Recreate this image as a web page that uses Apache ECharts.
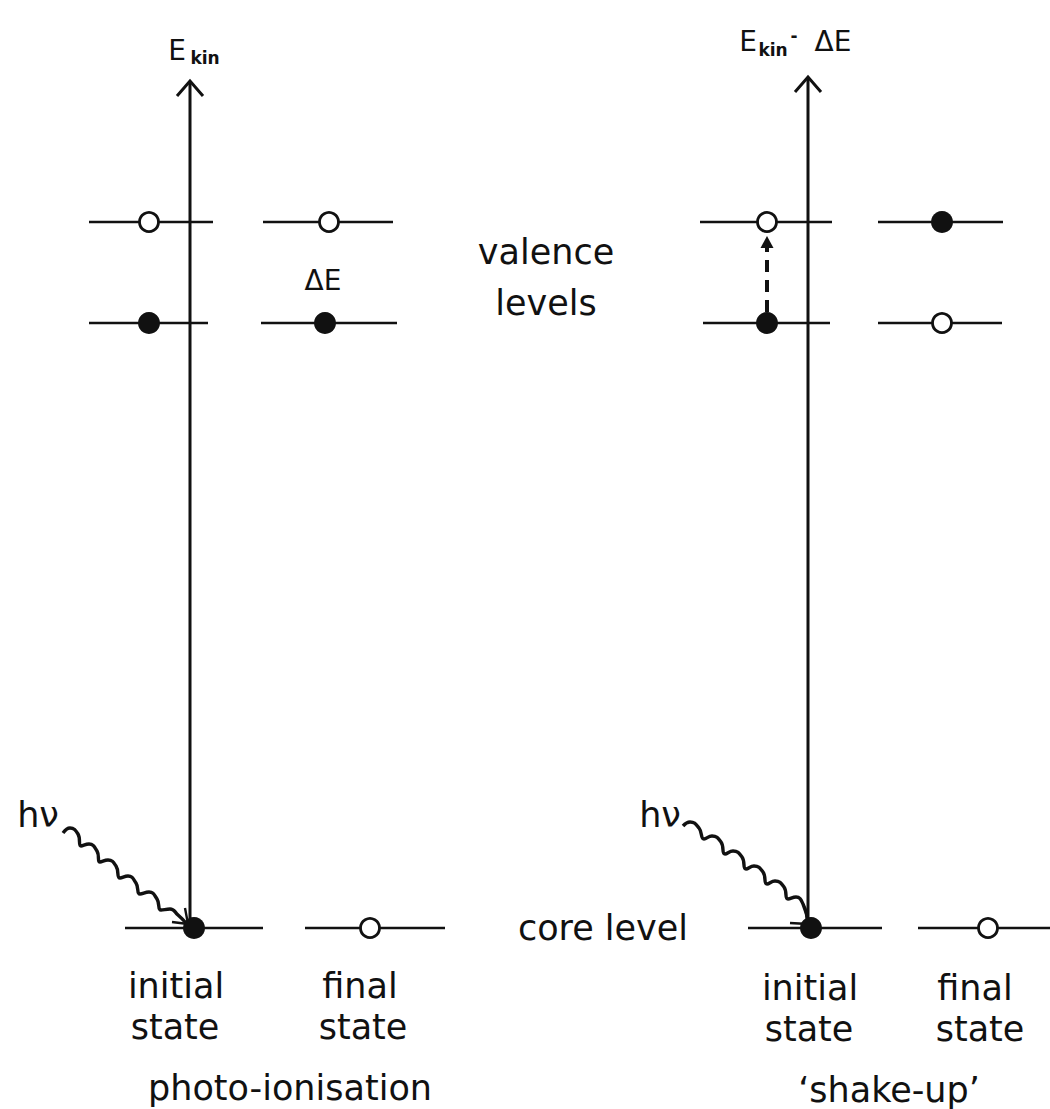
<!DOCTYPE html>
<html>
<head>
<meta charset="utf-8">
<script src="https://cdn.jsdelivr.net/npm/echarts@6/dist/echarts.min.js"></script>
<style>
  html, body { margin: 0; padding: 0; background: #fff; }
  #chart { width: 1050px; height: 1109px; }
</style>
</head>
<body>
<div id="chart"></div>
<script>
// diagram units: x across, y down the page (same scale as the figure)
const LEVEL_Y = { upper: 222, lower: 323, core: 928 };

// [x start, x end, level]
const LEVEL_SEGMENTS = [
  [89, 213, "upper"], [263, 393, "upper"],
  [89, 208, "lower"], [261, 397, "lower"],
  [125, 263, "core"], [305, 445, "core"],
  [700, 832, "upper"], [878, 1003, "upper"],
  [703, 830, "lower"], [878, 1002, "lower"],
  [748, 882, "core"], [918, 1050, "core"],
];

// electrons (filled) and holes (open): [x, level]
const FILLED = [
  [149, "lower"], [325, "lower"], [194, "core"],
  [942, "upper"], [767, "lower"], [811, "core"],
];
const EMPTY = [
  [149, "upper"], [329, "upper"], [370, "core"],
  [767, "upper"], [942, "lower"], [988, "core"],
];

// kinetic energy arrows: [x, bottom, top]
const ENERGY_AXES = [
  [190, 928, 81],
  [808, 928, 77],
];

// shake-up excitation: [x, from, to]
const EXCITATION = [767, 312, 247];

// photon wavy lines
const WAVE_LEFT = [
  [63, 833], [70, 828], [78, 834], [81, 846], [89, 844], [97, 851],
  [100, 862], [108, 860], [116, 866], [120, 878], [128, 876], [136, 883],
  [140, 894], [149, 892], [157, 899], [161, 910], [170, 909], [178, 915], [186, 923],
];
const WAVE_RIGHT = [
  [683, 826], [690, 822], [699, 828], [704, 839], [712, 836], [721, 842],
  [725, 854], [733, 851], [742, 857], [746, 869], [754, 866], [763, 872],
  [767, 884], [775, 881], [784, 887], [788, 899], [796, 897], [803, 904], [808, 923],
];
const WAVE_HEADS = [
  [[185, 908], [188, 924], [172, 922]],
  [[805, 908], [808, 924], [790, 923]],
];

// text: [x, y, text]
const TEXT_MAIN = [
  [546, 252, "valence"], [546, 303, "levels"],
  [38, 815, "hν"], [660, 815, "hν"],
  [603, 928, "core level"],
  [176, 986, "initial"], [175, 1027, "state"],
  [360, 986, "final"], [363, 1027, "state"],
  [290, 1088, "photo-ionisation"],
  [810, 988, "initial"], [809, 1029, "state"],
  [975, 988, "final"], [980, 1029, "state"],
  [889, 1090, "‘shake-up’"],
];
const TEXT_HEAD = [
  [177, 50, "E"], [323, 280, "ΔE"],
  [748, 41, "E"], [833, 41, "ΔE"],
];
const TEXT_SUB = [
  [205, 58, "kin"], [773, 50, "kin"], [794, 36, "-"],
];

var myChart = echarts.init(document.getElementById("chart"), null, { renderer: "svg" });
var option;
const INK = "#111";
const FONT = "DejaVu Sans";

function lineSeries(points, extra) {
  return Object.assign({
    type: "line",
    data: points,
    symbol: "none",
    silent: true,
    lineStyle: { color: INK, width: 2.6 },
    z: 2,
  }, extra || {});
}

function textSeries(items, label) {
  return {
    type: "scatter",
    symbolSize: 1,
    itemStyle: { color: "rgba(0,0,0,0)", opacity: 1 },
    silent: true,
    data: items.map(function (t) { return { value: [t[0], t[1]], name: t[2] }; }),
    label: Object.assign({
      show: true,
      position: "inside",
      formatter: "{b}",
      color: INK,
      fontFamily: FONT,
    }, label),
    z: 5,
  };
}

var series = [];

LEVEL_SEGMENTS.forEach(function (s) {
  var y = LEVEL_Y[s[2]];
  series.push(lineSeries([[s[0], y], [s[1], y]]));
});

ENERGY_AXES.forEach(function (a) {
  series.push(lineSeries([[a[0], a[1]], [a[0], a[2]]], { lineStyle: { color: INK, width: 3 } }));
  series.push(lineSeries([[a[0] - 13, a[2] + 15], [a[0], a[2]], [a[0] + 13, a[2] + 15]], {
    lineStyle: { color: INK, width: 3, join: "miter" },
  }));
});

series.push(lineSeries([[EXCITATION[0], EXCITATION[1]], [EXCITATION[0], EXCITATION[2]]], {
  lineStyle: { color: INK, width: 4, type: [12, 8] },
}));
series.push({
  type: "scatter",
  data: [[EXCITATION[0], EXCITATION[2] - 5]],
  symbol: "triangle",
  symbolSize: [13, 12],
  itemStyle: { color: INK, opacity: 1 },
  silent: true,
  z: 3,
});

series.push(lineSeries(WAVE_LEFT, { smooth: 0.5, lineStyle: { color: INK, width: 3.4 } }));
series.push(lineSeries(WAVE_RIGHT, { smooth: 0.5, lineStyle: { color: INK, width: 3.4 } }));
WAVE_HEADS.forEach(function (h) {
  series.push(lineSeries(h, { lineStyle: { color: INK, width: 2.4 } }));
});

series.push({
  type: "scatter",
  data: FILLED.map(function (p) { return [p[0], LEVEL_Y[p[1]]]; }),
  symbol: "circle",
  symbolSize: 22,
  itemStyle: { color: INK, opacity: 1 },
  silent: true,
  z: 4,
});
series.push({
  type: "scatter",
  data: EMPTY.map(function (p) { return [p[0], LEVEL_Y[p[1]]]; }),
  symbol: "circle",
  symbolSize: 19,
  itemStyle: { color: "#fff", borderColor: INK, borderWidth: 2.8, opacity: 1 },
  silent: true,
  z: 4,
});

series.push(textSeries(TEXT_MAIN, { fontSize: 35 }));
series.push(textSeries(TEXT_HEAD, { fontSize: 28 }));
series.push(textSeries(TEXT_SUB, { fontSize: 17, fontWeight: "bold" }));

option = {
  backgroundColor: "#fff",
  animation: false,
  grid: { left: 0, right: 0, top: 0, bottom: 0 },
  xAxis: {
    type: "value",
    min: 0,
    max: 1050,
    show: false,
  },
  yAxis: {
    type: "value",
    min: 0,
    max: 1109,
    inverse: true,
    show: false,
  },
  series: series,
};

option && myChart.setOption(option);
</script>
</body>
</html>
